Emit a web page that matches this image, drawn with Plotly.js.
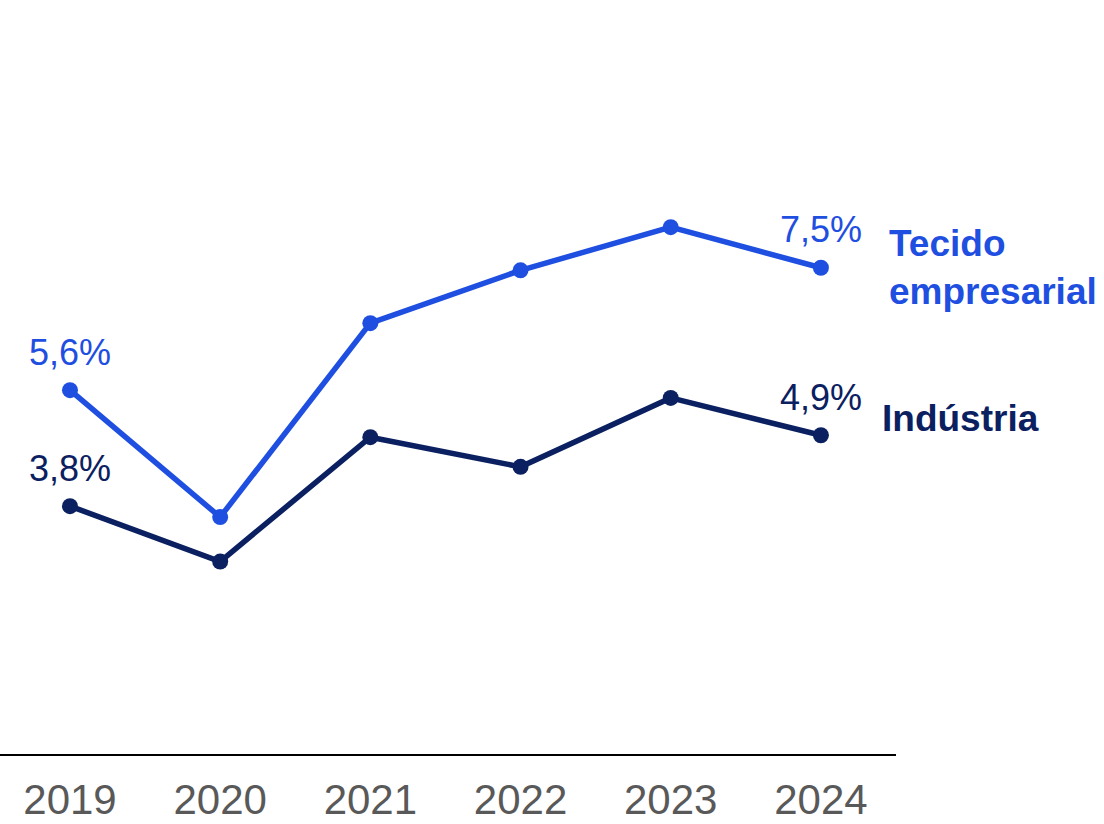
<!DOCTYPE html>
<html>
<head>
<meta charset="utf-8">
<script src="https://cdn.plot.ly/plotly-3.0.1.min.js"></script>
<style>html,body{margin:0;padding:0;background:#fff;}#chart{width:1104px;height:824px;}</style>
</head>
<body>
<div id="chart"></div>
<script>
const years = ['2019', '2020', '2021', '2022', '2023', '2024'];
const tecido = [5.6, 3.63, 6.64, 7.46, 8.13, 7.5];
const industria = [3.8, 2.94, 4.87, 4.41, 5.48, 4.9];
const seriesNames = ['Tecido<br>empresarial', 'Indústria'];
const labeledIdx = [0, 5];

const blue = '#1f4fe0';
const navy = '#0b2060';
const font = 'Liberation Sans, Arial, sans-serif';

function fmt(v) { return v.toFixed(1).replace('.', ',') + '%'; }

const traces = [
  {x: years, y: tecido, type: 'scatter', mode: 'lines+markers',
   line: {color: blue, width: 5.5}, marker: {color: blue, size: 16}, hoverinfo: 'skip'},
  {x: years, y: industria, type: 'scatter', mode: 'lines+markers',
   line: {color: navy, width: 5.5}, marker: {color: navy, size: 16}, hoverinfo: 'skip'}
];

const annotations = [];
const pairs = [[tecido, blue], [industria, navy]];
for (const p of pairs) {
  const arr = p[0], col = p[1];
  for (const i of labeledIdx) {
    annotations.push({x: i, y: arr[i], xref: 'x', yref: 'y', text: fmt(arr[i]),
      showarrow: false, yshift: 38, font: {family: font, size: 36, color: col}});
  }
}
annotations.push({x: 5, y: tecido[5], xref: 'x', yref: 'y', text: '<b>' + seriesNames[0] + '</b>',
  showarrow: false, xanchor: 'left', xshift: 66, yshift: 0, align: 'left',
  font: {family: font, size: 37, color: blue}});
annotations.push({x: 5, y: industria[5], xref: 'x', yref: 'y', text: '<b>' + seriesNames[1] + '</b>',
  showarrow: false, xanchor: 'left', xshift: 59, yshift: 17, align: 'left',
  font: {family: font, size: 37, color: navy}});

const layout = {
  width: 1104, height: 824,
  margin: {l: 0, r: 208, t: 0, b: 70},
  paper_bgcolor: '#fff', plot_bgcolor: '#fff',
  showlegend: false,
  xaxis: {type: 'category', range: [-0.466, 5.5], showgrid: false, zeroline: false,
    showline: true, linecolor: '#000', linewidth: 2, ticks: '', ticklabelstandoff: 8,
    tickfont: {family: font, size: 42, color: '#595959'}, fixedrange: true},
  yaxis: {range: [-0.047, 11.656], showticklabels: false, showline: false, ticks: '',
    showgrid: false, zeroline: false, fixedrange: true},
  annotations: annotations
};

Plotly.newPlot('chart', traces, layout, {displayModeBar: false});
</script>
</body>
</html>
